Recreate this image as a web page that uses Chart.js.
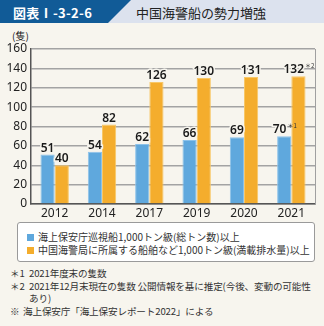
<!DOCTYPE html>
<html lang="ja">
<head>
<meta charset="utf-8">
<script src="https://cdn.jsdelivr.net/npm/chart.js@4"></script>
<style>
  html, body { margin: 0; padding: 0; }
  body {
    width: 324px; height: 326px; position: relative; overflow: hidden;
    background: #f7f5ee;
    font-family: "Noto Sans CJK JP", "Noto Sans", sans-serif;
    color: #222;
  }
  .band { position: absolute; left: 0; top: 0; width: 324px; height: 23px; background: #dce2ee; }
  .tag {
    position: absolute; left: 0; top: 0; width: 131px; height: 23px; background: #115b97;
    clip-path: polygon(0 0, 131px 0, 108px 23px, 0 23px);
  }
  .tag span { position: absolute; left: 13px; top: 3px; color: #fff; font-size: 13px; font-weight: bold; letter-spacing: 0.3px; }
  .title { position: absolute; left: 136px; top: 3px; font-size: 13px; color: #222; }
  .unit { position: absolute; left: 12px; top: 28px; font-size: 10px; }
  #wrap { position: absolute; left: 0; top: 28px; width: 324px; height: 194px; }
  .legend {
    position: absolute; left: 17px; top: 222px; width: 296px; height: 38px;
    background: #fff; border: 1px solid #9a9a9a; border-radius: 3px;
  }
  .legend div { position: absolute; left: 9px; font-size: 10px; color: #333; white-space: nowrap; }
  .legend i { display: inline-block; width: 7px; height: 7px; margin-right: 4px; vertical-align: 0px; }
  .notes { position: absolute; left: 10px; top: 267px; font-size: 9.6px; line-height: 12.7px; color: #333; letter-spacing: -0.15px; }
  .notes div { white-space: nowrap; position: relative; }
  .notes b { font-weight: normal; display: inline-block; width: 19px; }
  .notes .ind { padding-left: 19px; }
  .notes .ref b { width: 13px; }
</style>
</head>
<body>
<div class="band"></div>
<div class="tag"><span>図表Ⅰ-3-2-6</span></div>
<div class="title">中国海警船の勢力増強</div>
<div class="unit">(隻)</div>
<div id="wrap"><canvas id="chart"></canvas></div>
<div class="legend">
  <div style="top:6px"><i style="background:#5fa8dd"></i>海上保安庁巡視船1,000トン級(総トン数)以上</div>
  <div style="top:19px"><i style="background:#f4ad2d"></i>中国海警局に所属する船舶など1,000トン級(満載排水量)以上</div>
</div>
<div class="notes">
  <div><b>＊1</b>2021年度末の隻数</div>
  <div><b>＊2</b>2021年12月末現在の隻数 公開情報を基に推定(今後、変動の可能性</div>
  <div class="ind">あり)</div>
  <div class="ref"><b>※</b>海上保安庁「海上保安レポート2022」による</div>
</div>

<script>
// 年ごとの隻数
const years = ['2012', '2014', '2017', '2019', '2020', '2021'];
const jcgShips = [51, 54, 62, 66, 69, 70];
const ccgShips = [40, 82, 126, 130, 131, 132];
const jcgNotes = ['', '', '', '', '', '＊1'];
const ccgNotes = ['', '', '', '', '', '＊2'];
const yTicks = [0, 20, 40, 60, 80, 100, 120, 140, 160];

const BG = '#f7f5ee';

// 棒の上に数値(と注記)を描く
const valueLabels = {
  id: 'valueLabels',
  afterDatasetsDraw(chart) {
    const ctx = chart.ctx;
    const noteSets = [jcgNotes, ccgNotes];
    ctx.save();
    chart.data.datasets.forEach((ds, di) => {
      const meta = chart.getDatasetMeta(di);
      meta.data.forEach((bar, i) => {
        const txt = String(ds.data[i]);
        const note = noteSets[di][i];
        ctx.font = '600 12px "Noto Sans", sans-serif';
        const w1 = ctx.measureText(txt).width;
        ctx.font = '6px "Noto Sans CJK JP", sans-serif';
        const w2 = note ? ctx.measureText(note).width : 0;
        const x0 = bar.x - (w1 + w2) / 2;
        const y = bar.y - 3;
        ctx.textBaseline = 'alphabetic';
        ctx.textAlign = 'left';
        ctx.font = '600 12px "Noto Sans", sans-serif';
        ctx.lineWidth = 3;
        ctx.strokeStyle = BG;
        ctx.strokeText(txt, x0, y);
        ctx.fillStyle = '#1a1a1a';
        ctx.fillText(txt, x0, y);
        if (note) {
          ctx.font = '6px "Noto Sans CJK JP", sans-serif';
          ctx.fillStyle = '#333';
          ctx.fillText(note, x0 + w1 + 1, y - 5);
        }
      });
    });
    ctx.restore();
  }
};

// 右側の枠線
const frameRight = {
  id: 'frameRight',
  afterDraw(chart) {
    const a = chart.chartArea;
    const ctx = chart.ctx;
    ctx.save();
    ctx.strokeStyle = '#a0a0a0';
    ctx.lineWidth = 1;
    ctx.beginPath();
    ctx.moveTo(a.right + 0.5, a.top);
    ctx.lineTo(a.right + 0.5, a.bottom);
    ctx.stroke();
    ctx.restore();
  }
};

new Chart(document.getElementById('chart'), {
  type: 'bar',
  data: {
    labels: years,
    datasets: [
      { label: '海上保安庁巡視船', data: jcgShips, backgroundColor: '#5fa8dd', borderColor: '#8cc2ea', borderWidth: 1 },
      { label: '中国海警局', data: ccgShips, backgroundColor: '#f4ad2d', borderColor: '#f8c766', borderWidth: 1 }
    ]
  },
  options: {
    responsive: true,
    maintainAspectRatio: false,
    animation: false,
    layout: { padding: { left: 0, right: 9, top: 21, bottom: 0 } },
    datasets: { bar: { categoryPercentage: 0.6, barPercentage: 1.0 } },
    plugins: {
      legend: { display: false },
      tooltip: { enabled: false }
    },
    scales: {
      x: {
        grid: { display: false, drawTicks: false },
        border: { display: true, color: '#555', width: 1.5 },
        ticks: { color: '#222', font: { size: 12, family: '"Noto Sans", sans-serif' }, padding: 2 },
        afterFit(s) { s.height = 18; }
      },
      y: {
        min: 0,
        max: 160,
        afterBuildTicks(s) { s.ticks = yTicks.map(v => ({ value: v })); },
        grid: { color: '#a3a3a3', lineWidth: 1.5, drawTicks: false },
        border: { display: true, color: '#555', width: 1.5 },
        ticks: { color: '#222', font: { size: 12, family: '"Noto Sans", sans-serif' }, padding: 4 },
        afterFit(s) { s.width = 31; }
      }
    }
  },
  plugins: [valueLabels, frameRight]
});
</script>
</body>
</html>
